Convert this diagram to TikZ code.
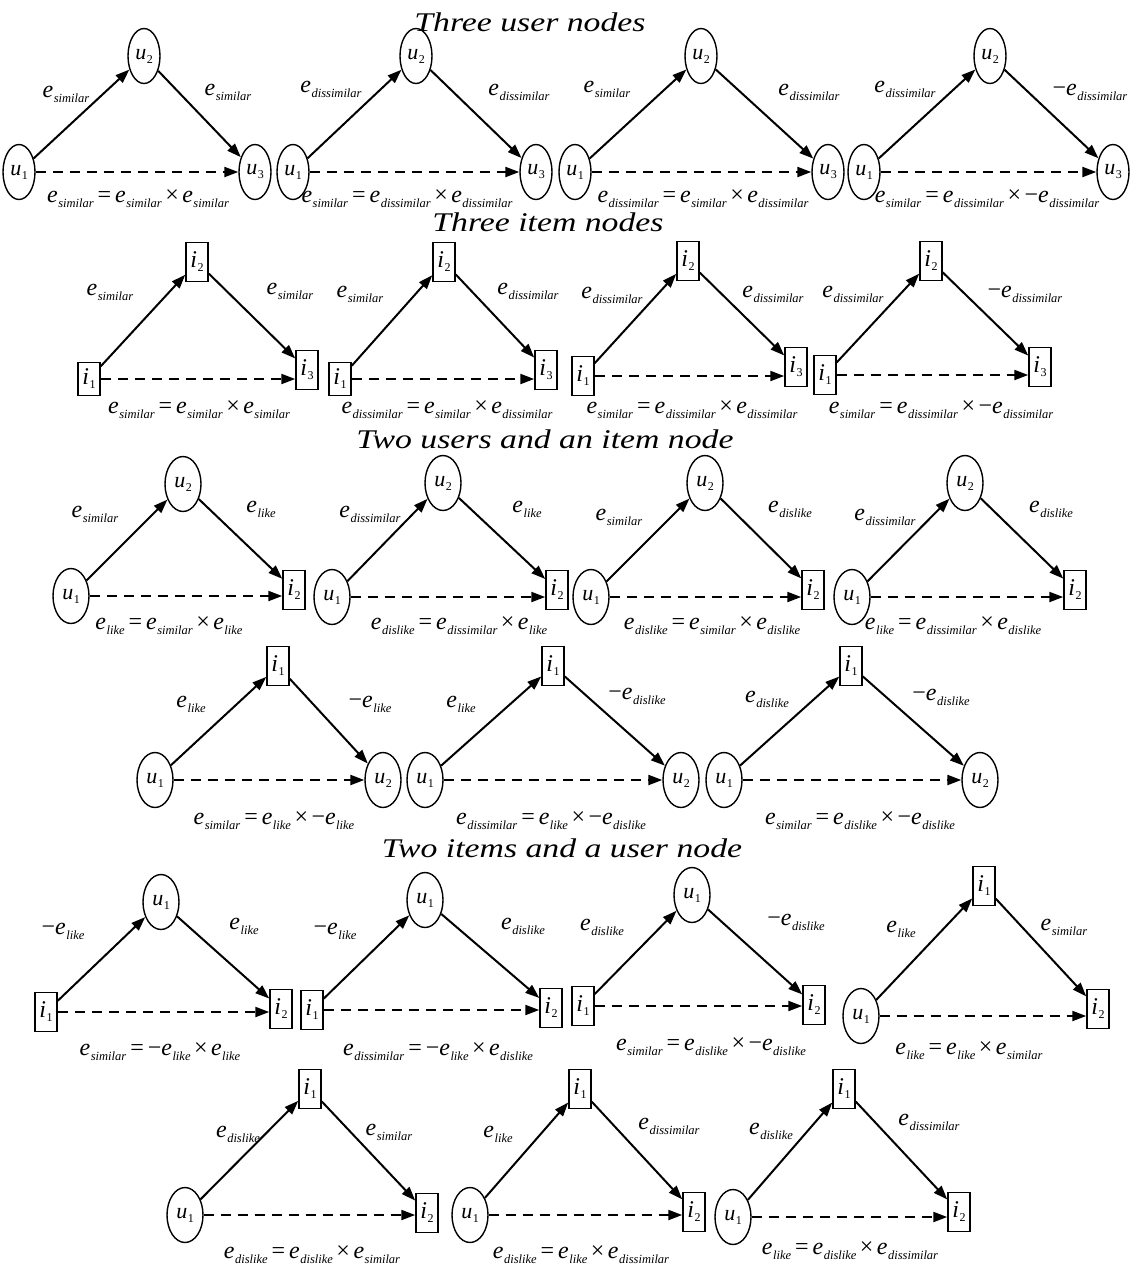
\documentclass[tikz,border=0pt]{standalone}
\usepackage{fontspec}
\setmainfont{Liberation Serif}
\usepackage{graphicx}
\usetikzlibrary{shapes.geometric,arrows.meta}

\newcommand\subt[1]{\raisebox{-5pt}{\fontsize{12.5}{12.5}\selectfont\itshape #1}}
\newcommand\Ee[1]{{\itshape e}\kern0.5pt\subt{#1}}
\newcommand\Eq{\hspace{4pt}=\hspace{4pt}}
\newcommand\Tm{\hspace{3.5pt}×\hspace{3.5pt}}
\newcommand\Uu[1]{{\itshape u}\kern0.5pt\raisebox{-4pt}{\fontsize{12}{12}\selectfont #1}}
\newcommand\Ii[1]{{\itshape i}\kern0.5pt\raisebox{-4pt}{\fontsize{12}{12}\selectfont #1}}
\newcommand\Ttl[1]{\scalebox{1.25}[1]{\fontsize{27}{29}\selectfont\itshape #1}}
\newcommand\Con[3]{\draw[edge] (#1) -- (#2); \draw[edge] (#2) -- (#3); \draw[dedge] (#1.east) -- (#1.east -| #3.west);}

\begin{document}
\begin{tikzpicture}[x=1pt,y=-1pt,
  un/.style={ellipse, draw, line width=1.4pt, minimum width=32pt, minimum height=55pt, inner sep=0pt, font=\fontsize{22}{24}\selectfont},
  inn/.style={rectangle, draw, line width=1.5pt, minimum width=22pt, minimum height=39pt, inner sep=0pt, font=\fontsize{24}{26}\selectfont},
  edge/.style={-{Triangle[length=14pt,width=10pt]}, line width=2pt},
  dedge/.style={edge, dash pattern=on 10pt off 7pt, line width=2.2pt},
  lab/.style={inner sep=0pt, anchor=mid, font=\fontsize{24}{26}\selectfont},
  ttl/.style={inner sep=0pt}]
\fill[white] (0,0) rectangle (1136,1270);
\useasboundingbox (0,0) rectangle (1136,1270);

% ---------- Row 1 ----------
\node[ttl] (h1) at (530,22) {\Ttl{Three user nodes}};

\node[un] (p1l) at (19,172) {\Uu{1}};
\node[un] (p1a) at (144,56) {\Uu{2}};
\node[un] (p1r) at (255,172) {\Uu{3}};
\Con{p1l}{p1a}{p1r}
\node[lab] (p1x) at (66,95) {\Ee{similar}};
\node[lab] (p1y) at (228,93) {\Ee{similar}};
\node[lab] (p1z) at (138,200) {\Ee{similar}\Eq\Ee{similar}\Tm\Ee{similar}};

\node[un] (p2l) at (293,172) {\Uu{1}};
\node[un] (p2a) at (416,56) {\Uu{2}};
\node[un] (p2r) at (536,172) {\Uu{3}};
\Con{p2l}{p2a}{p2r}
\node[lab] (p2x) at (331,90) {\Ee{dissimilar}};
\node[lab] (p2y) at (519,93) {\Ee{dissimilar}};
\node[lab] (p2z) at (407,200) {\Ee{similar}\Eq\Ee{dissimilar}\Tm\Ee{dissimilar}};

\node[un] (p3l) at (575,172) {\Uu{1}};
\node[un] (p3a) at (701,56) {\Uu{2}};
\node[un] (p3r) at (828,172) {\Uu{3}};
\Con{p3l}{p3a}{p3r}
\node[lab] (p3x) at (607,90) {\Ee{similar}};
\node[lab] (p3y) at (809,93) {\Ee{dissimilar}};
\node[lab] (p3z) at (703,200) {\Ee{dissimilar}\Eq\Ee{similar}\Tm\Ee{dissimilar}};

\node[un] (p4l) at (864,172) {\Uu{1}};
\node[un] (p4a) at (990,56) {\Uu{2}};
\node[un] (p4r) at (1113,172) {\Uu{3}};
\Con{p4l}{p4a}{p4r}
\node[lab] (p4x) at (905,90) {\Ee{dissimilar}};
\node[lab] (p4y) at (1090,93) {−\Ee{dissimilar}};
\node[lab] (p4z) at (987,200) {\Ee{similar}\Eq\Ee{dissimilar}\Tm−\Ee{dissimilar}};

% ---------- Row 2 ----------
\node[ttl] (h2) at (548,222) {\Ttl{Three item nodes}};

\node[inn, minimum height=33pt] (q1l) at (89,379) {\Ii{1}};
\node[inn] (q1a) at (197,262) {\Ii{2}};
\node[inn] (q1r) at (307,370) {\Ii{3}};
\Con{q1l}{q1a}{q1r}
\node[lab] (q1x) at (110,293) {\Ee{similar}};
\node[lab] (q1y) at (290,292) {\Ee{similar}};
\node[lab] (q1z) at (199,411) {\Ee{similar}\Eq\Ee{similar}\Tm\Ee{similar}};

\node[inn, minimum height=33pt] (q2l) at (340,379) {\Ii{1}};
\node[inn] (q2a) at (444,262) {\Ii{2}};
\node[inn] (q2r) at (546,370) {\Ii{3}};
\Con{q2l}{q2a}{q2r}
\node[lab] (q2x) at (360,295) {\Ee{similar}};
\node[lab] (q2y) at (528,292) {\Ee{dissimilar}};
\node[lab] (q2z) at (447,411) {\Ee{dissimilar}\Eq\Ee{similar}\Tm\Ee{dissimilar}};

\node[inn] (q3l) at (583,376) {\Ii{1}};
\node[inn] (q3a) at (688,261) {\Ii{2}};
\node[inn] (q3r) at (796,367) {\Ii{3}};
\Con{q3l}{q3a}{q3r}
\node[lab] (q3x) at (612,296) {\Ee{dissimilar}};
\node[lab] (q3y) at (773,295) {\Ee{dissimilar}};
\node[lab] (q3z) at (692,411) {\Ee{similar}\Eq\Ee{dissimilar}\Tm\Ee{dissimilar}};

\node[inn] (q4l) at (825,375) {\Ii{1}};
\node[inn] (q4a) at (931,261) {\Ii{2}};
\node[inn] (q4r) at (1040,367) {\Ii{3}};
\Con{q4l}{q4a}{q4r}
\node[lab] (q4x) at (853,295) {\Ee{dissimilar}};
\node[lab] (q4y) at (1025,295) {−\Ee{dissimilar}};
\node[lab] (q4z) at (941,411) {\Ee{similar}\Eq\Ee{dissimilar}\Tm−\Ee{dissimilar}};

% ---------- Row 3 ----------
\node[ttl] (h3) at (545,439) {\Ttl{Two users and an item node}};

\node[un, minimum width=36pt] (s1l) at (71,596) {\Uu{1}};
\node[un, minimum width=36pt] (s1a) at (183,484) {\Uu{2}};
\node[inn] (s1r) at (294,590) {\Ii{2}};
\Con{s1l}{s1a}{s1r}
\node[lab] (s1x) at (95,515) {\Ee{similar}};
\node[lab] (s1y) at (261,510) {\Ee{like}};
\node[lab] (s1z) at (169,627) {\Ee{like}\Eq\Ee{similar}\Tm\Ee{like}};

\node[un, minimum width=36pt] (s2l) at (332,597) {\Uu{1}};
\node[un, minimum width=36pt] (s2a) at (443,483) {\Uu{2}};
\node[inn] (s2r) at (557,590) {\Ii{2}};
\Con{s2l}{s2a}{s2r}
\node[lab] (s2x) at (370,515) {\Ee{dissimilar}};
\node[lab] (s2y) at (527,510) {\Ee{like}};
\node[lab] (s2z) at (459,627) {\Ee{dislike}\Eq\Ee{dissimilar}\Tm\Ee{like}};

\node[un, minimum width=36pt] (s3l) at (591,597) {\Uu{1}};
\node[un, minimum width=36pt] (s3a) at (705,483) {\Uu{2}};
\node[inn] (s3r) at (813,590) {\Ii{2}};
\Con{s3l}{s3a}{s3r}
\node[lab] (s3x) at (619,518) {\Ee{similar}};
\node[lab] (s3y) at (790,510) {\Ee{dislike}};
\node[lab] (s3z) at (712,627) {\Ee{dislike}\Eq\Ee{similar}\Tm\Ee{dislike}};

\node[un, minimum width=36pt] (s4l) at (852,597) {\Uu{1}};
\node[un, minimum width=36pt] (s4a) at (965,483) {\Uu{2}};
\node[inn] (s4r) at (1075,590) {\Ii{2}};
\Con{s4l}{s4a}{s4r}
\node[lab] (s4x) at (885,518) {\Ee{dissimilar}};
\node[lab] (s4y) at (1051,510) {\Ee{dislike}};
\node[lab] (s4z) at (953,627) {\Ee{like}\Eq\Ee{dissimilar}\Tm\Ee{dislike}};

% ---------- Row 4 ----------
\node[un, minimum width=36pt] (v1l) at (155,780) {\Uu{1}};
\node[inn] (v1a) at (278,666) {\Ii{1}};
\node[un, minimum width=36pt] (v1r) at (383,780) {\Uu{2}};
\Con{v1l}{v1a}{v1r}
\node[lab] (v1x) at (191,705) {\Ee{like}};
\node[lab] (v1y) at (370,705) {−\Ee{like}};
\node[lab] (v1z) at (274,822) {\Ee{similar}\Eq\Ee{like}\Tm−\Ee{like}};

\node[un, minimum width=36pt] (v2l) at (425,780) {\Uu{1}};
\node[inn] (v2a) at (553,666) {\Ii{1}};
\node[un, minimum width=36pt] (v2r) at (681,780) {\Uu{2}};
\Con{v2l}{v2a}{v2r}
\node[lab] (v2x) at (461,705) {\Ee{like}};
\node[lab] (v2y) at (637,697) {−\Ee{dislike}};
\node[lab] (v2z) at (551,822) {\Ee{dissimilar}\Eq\Ee{like}\Tm−\Ee{dislike}};

\node[un, minimum width=36pt] (v3l) at (724,780) {\Uu{1}};
\node[inn] (v3a) at (851,666) {\Ii{1}};
\node[un, minimum width=36pt] (v3r) at (980,780) {\Uu{2}};
\Con{v3l}{v3a}{v3r}
\node[lab] (v3x) at (767,700) {\Ee{dislike}};
\node[lab] (v3y) at (941,698) {−\Ee{dislike}};
\node[lab] (v3z) at (860,822) {\Ee{similar}\Eq\Ee{dislike}\Tm−\Ee{dislike}};

% ---------- Row 5 ----------
\node[ttl] (h4) at (562,848) {\Ttl{Two items and a user node}};

\node[inn] (w1l) at (46,1012) {\Ii{1}};
\node[un, minimum width=36pt] (w1a) at (161,902) {\Uu{1}};
\node[inn] (w1r) at (281,1009) {\Ii{2}};
\Con{w1l}{w1a}{w1r}
\node[lab] (w1x) at (63,932) {−\Ee{like}};
\node[lab] (w1y) at (244,927) {\Ee{like}};
\node[lab] (w1z) at (160,1053) {\Ee{similar}\Eq−\Ee{like}\Tm\Ee{like}};

\node[inn] (w2l) at (312,1010) {\Ii{1}};
\node[un, minimum width=36pt] (w2a) at (425,900) {\Uu{1}};
\node[inn] (w2r) at (551,1008) {\Ii{2}};
\Con{w2l}{w2a}{w2r}
\node[lab] (w2x) at (335,932) {−\Ee{like}};
\node[lab] (w2y) at (523,927) {\Ee{dislike}};
\node[lab] (w2z) at (438,1053) {\Ee{dissimilar}\Eq−\Ee{like}\Tm\Ee{dislike}};

\node[inn] (w3l) at (583,1006) {\Ii{1}};
\node[un, minimum width=36pt] (w3a) at (692,895) {\Uu{1}};
\node[inn] (w3r) at (814,1005) {\Ii{2}};
\Con{w3l}{w3a}{w3r}
\node[lab] (w3x) at (602,928) {\Ee{dislike}};
\node[lab] (w3y) at (796,923) {−\Ee{dislike}};
\node[lab] (w3z) at (711,1048) {\Ee{similar}\Eq\Ee{dislike}\Tm−\Ee{dislike}};

\node[un, minimum width=36pt] (w4l) at (861,1016) {\Uu{1}};
\node[inn] (w4a) at (984,886) {\Ii{1}};
\node[inn] (w4r) at (1098,1009) {\Ii{2}};
\Con{w4l}{w4a}{w4r}
\node[lab] (w4x) at (901,930) {\Ee{like}};
\node[lab] (w4y) at (1064,928) {\Ee{similar}};
\node[lab] (w4z) at (969,1052) {\Ee{like}\Eq\Ee{like}\Tm\Ee{similar}};

% ---------- Row 6 ----------
\node[un, minimum width=36pt] (z1l) at (185,1215) {\Uu{1}};
\node[inn] (z1a) at (310,1089) {\Ii{1}};
\node[inn] (z1r) at (427,1213) {\Ii{2}};
\Con{z1l}{z1a}{z1r}
\node[lab] (z1x) at (238,1135) {\Ee{dislike}};
\node[lab] (z1y) at (389,1133) {\Ee{similar}};
\node[lab] (z1z) at (312,1256) {\Ee{dislike}\Eq\Ee{dislike}\Tm\Ee{similar}};

\node[un, minimum width=36pt] (z2l) at (470,1215) {\Uu{1}};
\node[inn] (z2a) at (580,1089) {\Ii{1}};
\node[inn] (z2r) at (694,1212) {\Ii{2}};
\Con{z2l}{z2a}{z2r}
\node[lab] (z2x) at (498,1135) {\Ee{like}};
\node[lab] (z2y) at (669,1127) {\Ee{dissimilar}};
\node[lab] (z2z) at (581,1256) {\Ee{dislike}\Eq\Ee{like}\Tm\Ee{dissimilar}};

\node[un, minimum width=36pt] (z3l) at (733,1217) {\Uu{1}};
\node[inn] (z3a) at (844,1089) {\Ii{1}};
\node[inn] (z3r) at (959,1212) {\Ii{2}};
\Con{z3l}{z3a}{z3r}
\node[lab] (z3x) at (771,1132) {\Ee{dislike}};
\node[lab] (z3y) at (929,1123) {\Ee{dissimilar}};
\node[lab] (z3z) at (850,1252) {\Ee{like}\Eq\Ee{dislike}\Tm\Ee{dissimilar}};
\end{tikzpicture}
\end{document}
